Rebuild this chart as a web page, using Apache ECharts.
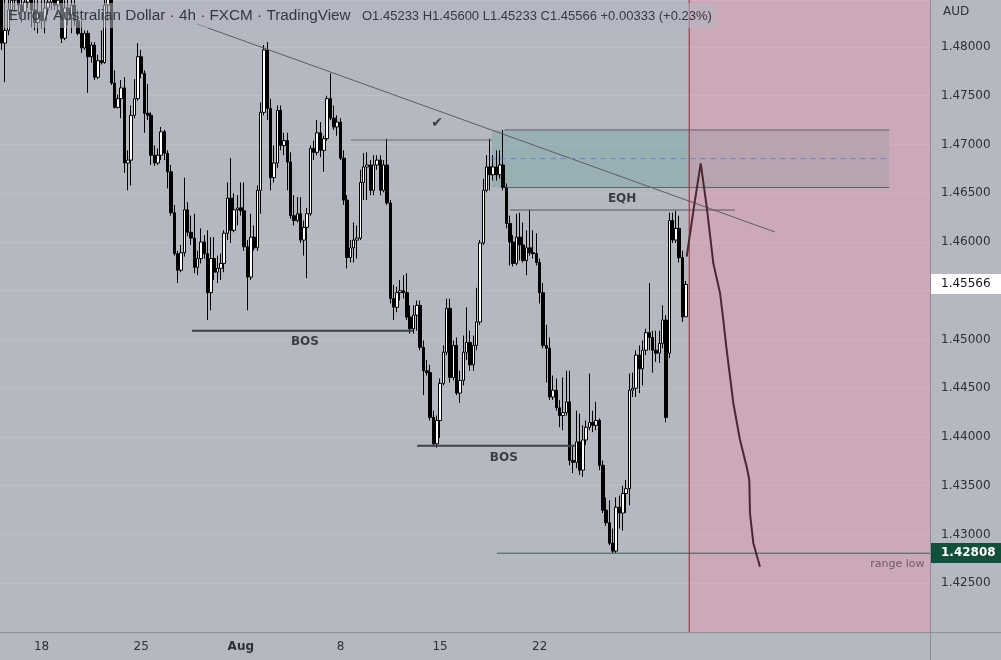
<!DOCTYPE html>
<html><head><meta charset="utf-8">
<script src="https://cdn.jsdelivr.net/npm/echarts@6/dist/echarts.min.js"></script>
<style>html,body{margin:0;padding:0;background:#b5b7c1;}#c{width:1001px;height:660px;}</style>
</head><body><div id="c"></div>
<script>
// ---------- DATA ----------
// 4h candles, [open, close, low, high]
const ohlc = [
[1.4853,1.4804,1.4797,1.4863],[1.4804,1.4817,1.4764,1.4853],[1.4817,1.4838,1.4812,1.4853],[1.4838,1.4848,1.4827,1.4858],
[1.4848,1.4853,1.4836,1.4863],[1.4853,1.4843,1.4833,1.4860],[1.4843,1.4836,1.4825,1.4851],[1.4836,1.4846,1.4833,1.4853],
[1.4846,1.4856,1.4840,1.4863],[1.4856,1.4838,1.4820,1.4863],[1.4838,1.4825,1.4817,1.4848],[1.4825,1.4836,1.4814,1.4848],
[1.4836,1.4827,1.4819,1.4848],[1.4827,1.4840,1.4814,1.4851],[1.4840,1.4846,1.4833,1.4856],[1.4846,1.4853,1.4838,1.4863],
[1.4853,1.4843,1.4838,1.4863],[1.4843,1.4848,1.4833,1.4858],[1.4848,1.4809,1.4804,1.4853],[1.4809,1.4840,1.4807,1.4848],
[1.4840,1.4833,1.4822,1.4851],[1.4833,1.4843,1.4814,1.4853],[1.4843,1.4827,1.4822,1.4848],[1.4827,1.4814,1.4812,1.4838],
[1.4814,1.4799,1.4794,1.4827],[1.4799,1.4814,1.4797,1.4817],[1.4814,1.4790,1.4753,1.4817],[1.4790,1.4802,1.4784,1.4805],
[1.4802,1.4769,1.4766,1.4805],[1.4769,1.4786,1.4767,1.4792],[1.4786,1.4784,1.4782,1.4817],[1.4784,1.4843,1.4783,1.4851],
[1.4843,1.4853,1.4827,1.4863],[1.4853,1.4763,1.4761,1.4863],[1.4763,1.4738,1.4737,1.4776],[1.4738,1.4747,1.4737,1.4751],
[1.4747,1.4758,1.4727,1.4766],[1.4758,1.4681,1.4671,1.4769],[1.4681,1.4684,1.4653,1.4694],[1.4684,1.4730,1.4658,1.4740],
[1.4730,1.4747,1.4727,1.4767],[1.4747,1.4790,1.4745,1.4804],[1.4790,1.4773,1.4768,1.4797],[1.4773,1.4732,1.4712,1.4776],
[1.4732,1.4730,1.4725,1.4762],[1.4730,1.4689,1.4679,1.4733],[1.4689,1.4681,1.4678,1.4699],[1.4681,1.4689,1.4679,1.4696],
[1.4689,1.4713,1.4684,1.4718],[1.4713,1.4691,1.4684,1.4715],[1.4691,1.4672,1.4655,1.4694],[1.4672,1.4630,1.4627,1.4679],
[1.4630,1.4588,1.4586,1.4638],[1.4588,1.4571,1.4558,1.4591],[1.4571,1.4589,1.4569,1.4597],[1.4589,1.4633,1.4585,1.4666],
[1.4633,1.4610,1.4606,1.4641],[1.4610,1.4604,1.4597,1.4627],[1.4604,1.4574,1.4568,1.4629],[1.4574,1.4583,1.4566,1.4591],
[1.4583,1.4600,1.4578,1.4614],[1.4600,1.4588,1.4583,1.4607],[1.4588,1.4548,1.4520,1.4612],[1.4548,1.4583,1.4530,1.4605],
[1.4583,1.4569,1.4561,1.4605],[1.4569,1.4573,1.4558,1.4586],[1.4573,1.4578,1.4561,1.4588],[1.4578,1.4609,1.4569,1.4612],
[1.4609,1.4645,1.4602,1.4661],[1.4645,1.4612,1.4599,1.4686],[1.4612,1.4633,1.4610,1.4650],[1.4633,1.4635,1.4617,1.4648],
[1.4635,1.4632,1.4627,1.4661],[1.4632,1.4595,1.4591,1.4661],[1.4595,1.4564,1.4530,1.4602],[1.4564,1.4605,1.4561,1.4629],
[1.4605,1.4594,1.4591,1.4617],[1.4594,1.4653,1.4591,1.4658],[1.4653,1.4733,1.4629,1.4743],[1.4733,1.4797,1.4730,1.4802],
[1.4797,1.4737,1.4725,1.4805],[1.4737,1.4666,1.4653,1.4747],[1.4666,1.4681,1.4661,1.4699],[1.4681,1.4735,1.4676,1.4740],
[1.4735,1.4699,1.4694,1.4740],[1.4699,1.4704,1.4689,1.4712],[1.4704,1.4682,1.4653,1.4712],[1.4682,1.4627,1.4624,1.4692],
[1.4627,1.4622,1.4617,1.4648],[1.4622,1.4629,1.4620,1.4646],[1.4629,1.4602,1.4599,1.4646],[1.4602,1.4615,1.4586,1.4622],
[1.4615,1.4629,1.4563,1.4635],[1.4629,1.4696,1.4627,1.4699],[1.4696,1.4692,1.4684,1.4704],[1.4692,1.4712,1.4689,1.4725],
[1.4712,1.4694,1.4687,1.4723],[1.4694,1.4706,1.4672,1.4709],[1.4706,1.4747,1.4704,1.4750],[1.4747,1.4727,1.4725,1.4773],
[1.4727,1.4718,1.4715,1.4740],[1.4718,1.4723,1.4709,1.4730],[1.4723,1.4686,1.4684,1.4727],[1.4686,1.4643,1.4638,1.4694],
[1.4643,1.4584,1.4573,1.4648],[1.4584,1.4594,1.4579,1.4602],[1.4594,1.4602,1.4579,1.4620],[1.4602,1.4604,1.4583,1.4617],
[1.4604,1.4661,1.4602,1.4674],[1.4661,1.4677,1.4643,1.4691],[1.4677,1.4679,1.4643,1.4692],[1.4679,1.4653,1.4648,1.4684],
[1.4653,1.4679,1.4648,1.4689],[1.4679,1.4684,1.4674,1.4689],[1.4684,1.4653,1.4648,1.4689],[1.4653,1.4679,1.4651,1.4684],
[1.4679,1.4640,1.4638,1.4706],[1.4640,1.4542,1.4537,1.4643],[1.4542,1.4533,1.4520,1.4556],[1.4533,1.4548,1.4528,1.4554],
[1.4548,1.4550,1.4540,1.4561],[1.4550,1.4548,1.4542,1.4566],[1.4548,1.4523,1.4520,1.4568],[1.4523,1.4511,1.4506,1.4535],
[1.4511,1.4525,1.4506,1.4535],[1.4525,1.4535,1.4509,1.4540],[1.4535,1.4492,1.4489,1.4540],[1.4492,1.4468,1.4443,1.4499],
[1.4468,1.4466,1.4463,1.4479],[1.4466,1.4420,1.4417,1.4474],[1.4420,1.4393,1.4390,1.4427],[1.4393,1.4417,1.4389,1.4422],
[1.4417,1.4455,1.4399,1.4460],[1.4455,1.4487,1.4453,1.4494],[1.4487,1.4532,1.4484,1.4542],[1.4532,1.4461,1.4456,1.4542],
[1.4461,1.4494,1.4458,1.4499],[1.4494,1.4445,1.4443,1.4502],[1.4445,1.4458,1.4435,1.4468],[1.4458,1.4487,1.4453,1.4504],
[1.4487,1.4497,1.4479,1.4533],[1.4497,1.4474,1.4468,1.4509],[1.4474,1.4494,1.4468,1.4504],[1.4494,1.4518,1.4489,1.4553],
[1.4518,1.4599,1.4515,1.4602],[1.4599,1.4653,1.4597,1.4665],[1.4653,1.4677,1.4651,1.4689],[1.4677,1.4669,1.4653,1.4706],
[1.4669,1.4677,1.4663,1.4689],[1.4677,1.4669,1.4663,1.4694],[1.4669,1.4679,1.4665,1.4694],[1.4679,1.4656,1.4653,1.4715],
[1.4656,1.4619,1.4614,1.4660],[1.4619,1.4600,1.4576,1.4627],[1.4600,1.4578,1.4575,1.4607],[1.4578,1.4605,1.4576,1.4629],
[1.4605,1.4597,1.4581,1.4630],[1.4597,1.4581,1.4579,1.4620],[1.4581,1.4594,1.4566,1.4612],[1.4594,1.4589,1.4586,1.4633],
[1.4589,1.4588,1.4583,1.4612],[1.4588,1.4579,1.4576,1.4609],[1.4579,1.4548,1.4537,1.4583],[1.4548,1.4494,1.4491,1.4558],
[1.4494,1.4491,1.4456,1.4515],[1.4491,1.4441,1.4438,1.4502],[1.4441,1.4448,1.4438,1.4463],[1.4448,1.4430,1.4427,1.4460],
[1.4430,1.4422,1.4410,1.4438],[1.4422,1.4425,1.4407,1.4461],[1.4425,1.4436,1.4422,1.4468],[1.4436,1.4376,1.4371,1.4468],
[1.4376,1.4374,1.4363,1.4391],[1.4374,1.4395,1.4368,1.4427],[1.4395,1.4366,1.4361,1.4424],[1.4366,1.4397,1.4359,1.4412],
[1.4397,1.4410,1.4392,1.4417],[1.4410,1.4415,1.4407,1.4465],[1.4415,1.4412,1.4405,1.4427],[1.4412,1.4417,1.4407,1.4436],
[1.4417,1.4371,1.4366,1.4419],[1.4371,1.4325,1.4322,1.4376],[1.4325,1.4312,1.4309,1.4338],[1.4312,1.4291,1.4289,1.4335],
[1.4291,1.4283,1.42808,1.4306],[1.4283,1.4328,1.4281,1.4338],[1.4328,1.4322,1.4306,1.4340],[1.4322,1.4342,1.4304,1.4350],
[1.4342,1.4347,1.4322,1.4356],[1.4347,1.4448,1.4330,1.4465],[1.4448,1.4450,1.4441,1.4466],[1.4450,1.4484,1.4441,1.4489],
[1.4484,1.4470,1.4445,1.4494],[1.4470,1.4489,1.4453,1.4499],[1.4489,1.4507,1.4484,1.4511],[1.4507,1.4502,1.4489,1.4558],
[1.4502,1.4489,1.4466,1.4509],[1.4489,1.4486,1.4477,1.4509],[1.4486,1.4496,1.4476,1.4509],[1.4496,1.4520,1.4491,1.4535],
[1.4520,1.4420,1.4415,1.4525],[1.4486,1.4622,1.4481,1.4630],[1.4622,1.4602,1.4599,1.4630],[1.4602,1.4614,1.4599,1.4632],
[1.4614,1.4584,1.4579,1.4627],[1.4584,1.4523,1.4518,1.4591],[1.45233,1.45566,1.45233,1.45600]
];
const slotCount = 280;                        // candle slots incl. empty future space
const tickIndex = [12, 42, 72, 102, 132, 162]; // slots of the date ticks
const tickText  = ['18', '25', 'Aug', '8', '15', '22'];
const yMin = 1.42, yMax = 1.48482, yStep = 0.005;
const lastPrice = 1.45566, rangeLow = 1.42808;
const headerTitle = 'Euro / Australian Dollar \u00b7 4h \u00b7 FXCM \u00b7 TradingView';
const headerOHLC = 'O1.45233 H1.45600 L1.45233 C1.45566 +0.00333 (+0.23%)';
// drawings, [slot, price]
const projection = [[206.25,1.45849],[208.75,1.46431],[210.47,1.46807],[212.27,1.46362],[214.26,1.45782],[216.28,1.45477],[217.27,1.45200],[218.29,1.44892],[220.28,1.44349],[222.3,1.43969],[224.3,1.43695],[225.1,1.43559],[225.3,1.43220],[226.3,1.42913],[228.3,1.42670]];
const trendLine = [[58.8,1.48236],[232.8,1.46103]];
const highLine  = [[105.2,1.47046],[147.6,1.47046]];
const zoneBox   = [147.6, 267.2, 1.46559, 1.47149];
const zoneTop   = [[151.3,1.47149],[267.2,1.47149]];
const zoneBot   = [[152.0,1.46559],[267.2,1.46559]];
const zoneMid   = [[147.2,1.46856],[267.2,1.46856]];
const eqhLine   = [[153.1,1.46328],[220.8,1.46328]];
const bos1Line  = [[57.3,1.45090],[123.8,1.45090]];
const bos2Line  = [[125.1,1.43911],[172.6,1.43911]];
const rangeLowLine = [[149.1,rangeLow],[279.5,rangeLow]];
const forecastStart = 207;
const textMarks = [
  {name:'BOS', at:[91.3,1.44974], size:12}, {name:'BOS', at:[151.2,1.43785], size:12},
  {name:'EQH', at:[186.8,1.46441], size:12}, {name:'\u2714', at:[131.1,1.47220], size:14}
];
const rangeLowText = {name:'range low', at:[278.0,1.42697]};

// ---------- CHART ----------
const chart = echarts.init(document.getElementById('c'), null, {renderer:'canvas', width:1001, height:660});
const categories = Array.from({length: slotCount}, (_, i) => String(i));
const AXC = '#8d8f98';
function seg(data, color, width, type, z){
  return {type:'line', xAxisIndex:1, yAxisIndex:0, data, symbol:'none', silent:true, animation:false, z:z||4,
    lineStyle:{color, width, type:type||'solid'}, clip:true};
}
const areas = [
  {box: zoneBox, color:'rgba(90,160,150,0.32)'},
  {box: [forecastStart, slotCount-0.5, yMin, yMax], color:'rgba(255,140,170,0.30)'}
];
const option = {
  animation:false,
  backgroundColor:'#b5b7c1',
  grid:{left:0, top:0, right:71, bottom:28, containLabel:false},
  xAxis:[
    {type:'category', data:categories, boundaryGap:true,
     axisLine:{show:true, onZero:false, lineStyle:{color:AXC}}, axisTick:{show:false}, splitLine:{show:false},
     axisLabel:{interval:(i)=>tickIndex.includes(i), margin:9, color:'#2e3038', fontSize:12, fontFamily:'DejaVu Sans',
       formatter:(v,i)=>{const k=tickIndex.indexOf(i); if(k<0) return ''; const t=tickText[k]; return t==='Aug'?'{b|Aug}':t;},
       rich:{b:{fontWeight:'bold', fontSize:12, color:'#2e3038', fontFamily:'DejaVu Sans'}}}},
    {type:'value', min:-0.5, max:slotCount-0.5, show:false, axisLine:{onZero:false}}
  ],
  yAxis:{type:'value', position:'right', min:yMin, max:yMax, interval:yStep,
    axisLine:{show:true, onZero:false, lineStyle:{color:AXC}}, axisTick:{show:false},
    axisLabel:{showMaxLabel:false, showMinLabel:false, margin:11, color:'#2e3038', fontSize:12, fontFamily:'DejaVu Sans',
      formatter:(v)=>v.toFixed(5)},
    splitLine:{show:true, lineStyle:{color:'rgba(255,255,255,0.12)'}}},
  series:[
    {type:'custom', xAxisIndex:1, yAxisIndex:0, z:1, silent:true, clip:true,
     data: areas.map(a=>a.box),
     renderItem:(params, api)=>{
       const p0 = api.coord([api.value(0), api.value(3)]);
       const p1 = api.coord([api.value(1), api.value(2)]);
       return {type:'rect', shape:{x:p0[0], y:p0[1], width:p1[0]-p0[0], height:p1[1]-p0[1]},
               style:{fill:areas[params.dataIndex].color}};
     }},
    {type:'candlestick', xAxisIndex:0, yAxisIndex:0, data:ohlc, barWidth:3, z:2, silent:true,
     itemStyle:{color:'#ffffff', color0:'#000000', borderColor:'#000000', borderColor0:'#000000', borderWidth:1}},
    seg(trendLine, '#5b5d66', 1),
    seg(highLine, '#676972', 1),
    seg(zoneTop, '#5b6667', 1),
    seg(zoneBot, '#5b6667', 1),
    seg(zoneMid, '#6f7fcf', 1, [5,5]),
    seg(eqhLine, '#55575f', 1),
    seg(bos1Line, '#3e4047', 2),
    seg(bos2Line, '#3e4047', 2),
    seg(rangeLowLine, '#3b5f5a', 1),
    seg([[forecastStart,yMin],[forecastStart,yMax]], '#9a2535', 1),
    seg(projection, '#4a2731', 2, 'solid', 5),
    {type:'scatter', xAxisIndex:1, yAxisIndex:0, symbolSize:1, silent:true, z:6,
     itemStyle:{color:'rgba(0,0,0,0)'},
     data: textMarks.map(t=>({value:t.at, label:{show:true, position:'inside', formatter:t.name,
       color:'#1c1d22', fontSize:t.size, fontWeight:'bold', fontFamily:'DejaVu Sans'}}))
       .concat([{value:rangeLowText.at, label:{show:true, position:'left', distance:0, formatter:rangeLowText.name,
       color:'#5a4653', fontSize:11, fontFamily:'DejaVu Sans'}}])}
  ]
};
chart.setOption(option);

// price tags on the axis & header
const yLast = chart.convertToPixel({yAxisIndex:0}, lastPrice);
const yLow = chart.convertToPixel({yAxisIndex:0}, rangeLow);
chart.setOption({graphic:[
  {type:'rect', shape:{x:4, y:3, width:712, height:25}, style:{fill:'rgba(181,183,193,0.55)'}, z:10, silent:true},
  {type:'text', x:8, y:16, style:{text:headerTitle, fill:'#363841', font:'15.3px "Liberation Sans"', verticalAlign:'middle'}, z:11},
  {type:'text', x:362, y:16, style:{text:headerOHLC, fill:'#363841', font:'13px "Liberation Sans"', verticalAlign:'middle'}, z:11},
  {type:'text', x:943, y:12, style:{text:'AUD', fill:'#2e3038', font:'12px "DejaVu Sans"', verticalAlign:'middle'}, z:11},
  {type:'line', shape:{x1:930, y1:632.5, x2:1001, y2:632.5}, style:{stroke:AXC, lineWidth:1}, z:11},
  {type:'line', shape:{x1:930.5, y1:632, x2:930.5, y2:660}, style:{stroke:AXC, lineWidth:1}, z:11},
  {type:'rect', shape:{x:931, y:Math.round(yLast)-10, width:70, height:20}, style:{fill:'#ffffff'}, z:12},
  {type:'text', x:941, y:yLast, style:{text:lastPrice.toFixed(5), fill:'#131722', font:'12px "DejaVu Sans"', verticalAlign:'middle'}, z:13},
  {type:'rect', shape:{x:931, y:Math.round(yLow)-10, width:70, height:20}, style:{fill:'#12503e'}, z:12},
  {type:'text', x:941, y:yLow, style:{text:rangeLow.toFixed(5), fill:'#ffffff', font:'bold 12px "DejaVu Sans"', verticalAlign:'middle'}, z:13}
]});
</script></body></html>
